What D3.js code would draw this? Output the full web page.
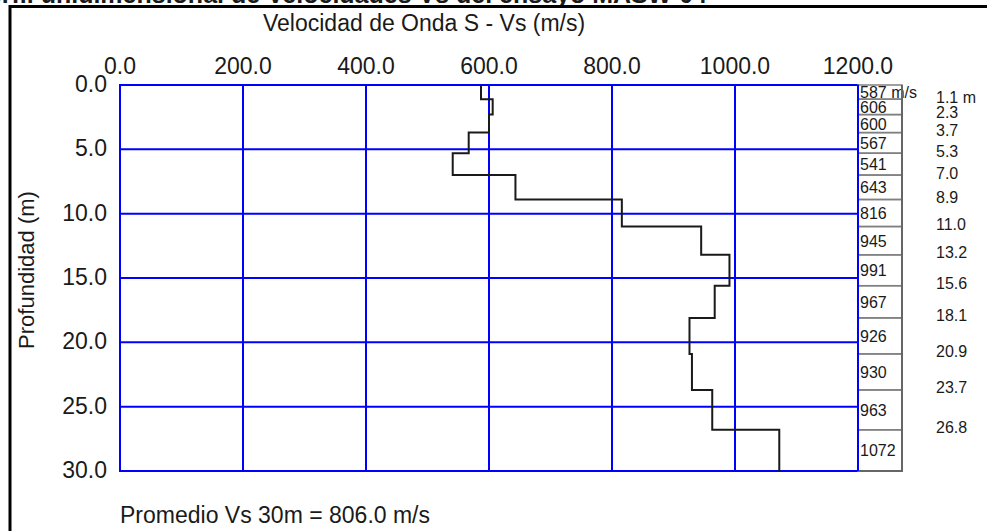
<!DOCTYPE html>
<html>
<head>
<meta charset="utf-8">
<script src="https://cdn.jsdelivr.net/npm/d3@7"></script>
<style>
  body { margin: 0; background: #fff; }
  text { font-family: "Liberation Sans", Arial, sans-serif; fill: #1a1a1a; }
</style>
</head>
<body>
<div id="chart"></div>
<script>
// Layer data: bottom depth of each layer (m) and shear wave velocity (m/s)
const layerBottoms = [1.1, 2.3, 3.7, 5.3, 7.0, 8.9, 11.0, 13.2, 15.6, 18.1, 20.9, 23.7, 26.8, 30.0];
const velocities = [587, 606, 600, 567, 541, 643, 816, 945, 991, 967, 926, 930, 963, 1072];
const xTicks = [0, 200, 400, 600, 800, 1000, 1200];
const yTicks = [0, 5, 10, 15, 20, 25, 30];
const averageVs = 806.0;

const width = 987, height = 531;
const margin = { top: 85, right: 129, bottom: 60, left: 120 };

const svg = d3.select("#chart").append("svg")
    .attr("width", width)
    .attr("height", height);

// Cropped document heading above the frame
svg.append("text")
    .attr("x", 707).attr("y", 3)
    .attr("text-anchor", "end")
    .style("font-size", "25px").style("font-weight", "bold")
    .text("Perfil unidimensional de Velocidades Vs del ensayo MASW-04");

// Outer frame (only top and left visible)
svg.append("rect")
    .attr("x", 10).attr("y", 6.5)
    .attr("width", 1100).attr("height", 600)
    .attr("fill", "none").attr("stroke", "#000").attr("stroke-width", 3);

const x = d3.scaleLinear().domain([0, 1200]).range([margin.left, width - margin.right]);
const y = d3.scaleLinear().domain([0, 30]).range([margin.top, height - margin.bottom]);

// Title
svg.append("text")
    .attr("x", 263).attr("y", 31)
    .style("font-size", "23px")
    .text("Velocidad de Onda S - Vs (m/s)");

// Grid
svg.append("g").selectAll("line").data(xTicks).join("line")
    .attr("x1", d => x(d)).attr("x2", d => x(d))
    .attr("y1", y(0)).attr("y2", y(30))
    .attr("stroke", "#0000ff").attr("stroke-width", 2);
svg.append("g").selectAll("line").data(yTicks).join("line")
    .attr("x1", x(0) - 1).attr("x2", x(1200) + 1)
    .attr("y1", d => y(d)).attr("y2", d => y(d))
    .attr("stroke", "#0000ff").attr("stroke-width", 2);

// Tick labels
svg.append("g").selectAll("text").data(xTicks).join("text")
    .attr("x", d => x(d)).attr("y", 74)
    .attr("text-anchor", "middle")
    .style("font-size", "23px")
    .text(d => d3.format(".1f")(d));
svg.append("g").selectAll("text").data(yTicks).join("text")
    .attr("x", 107).attr("y", d => y(d) + 7)
    .attr("text-anchor", "end")
    .style("font-size", "23px")
    .text(d => d3.format(".1f")(d));

// Y axis label
svg.append("text")
    .attr("transform", "translate(34,270) rotate(-90)")
    .attr("text-anchor", "middle")
    .style("font-size", "22px")
    .text("Profundidad (m)");

// Velocity profile as steps
const layers = velocities.map((v, i) => ({ v: v, top: i === 0 ? 0 : layerBottoms[i - 1], bottom: layerBottoms[i] }));
const stepPoints = [];
layers.forEach(d => {
    stepPoints.push({ v: d.v, z: d.top });
    stepPoints.push({ v: d.v, z: d.bottom });
});
svg.append("path")
    .datum(stepPoints)
    .attr("fill", "none")
    .attr("stroke", "#1a1a1a")
    .attr("stroke-width", 2)
    .attr("d", d3.line().x(d => x(d.v)).y(d => y(d.z)));

// Table of layer velocities on the right
const tableX = x(1200), tableW = 44;
const rows = svg.append("g");
rows.selectAll("rect").data(layers).join("rect")
    .attr("x", tableX).attr("y", d => y(d.top))
    .attr("width", tableW).attr("height", d => y(d.bottom) - y(d.top))
    .attr("fill", "none").attr("stroke", "#808080").attr("stroke-width", 1.5);
svg.append("line")
    .attr("x1", tableX + tableW).attr("x2", tableX + tableW)
    .attr("y1", y(0)).attr("y2", y(30) + 1)
    .attr("stroke", "#666").attr("stroke-width", 2);
svg.append("line")
    .attr("x1", tableX).attr("x2", tableX + tableW + 1)
    .attr("y1", y(30)).attr("y2", y(30))
    .attr("stroke", "#666").attr("stroke-width", 2);
// Replot the blue right border over the table edge
svg.append("line")
    .attr("x1", tableX).attr("x2", tableX)
    .attr("y1", y(0)).attr("y2", y(30))
    .attr("stroke", "#0000ff").attr("stroke-width", 2);

rows.selectAll("text").data(layers).join("text")
    .attr("x", tableX + 2)
    .attr("y", d => (y(d.top) + y(d.bottom)) / 2 + 6)
    .style("font-size", "16px")
    .text((d, i) => i === 0 ? d.v + " m/s" : d.v);

// Depth labels at layer boundaries
svg.append("g").selectAll("text").data(layerBottoms.slice(0, -1)).join("text")
    .attr("x", 936).attr("y", d => y(d) + 3.5)
    .style("font-size", "16px")
    .text((d, i) => i === 0 ? d3.format(".1f")(d) + " m" : d3.format(".1f")(d));

// Average footer
svg.append("text")
    .attr("x", 120).attr("y", 523)
    .style("font-size", "23px")
    .text("Promedio Vs 30m = " + d3.format(".1f")(averageVs) + " m/s");
</script>
</body>
</html>
